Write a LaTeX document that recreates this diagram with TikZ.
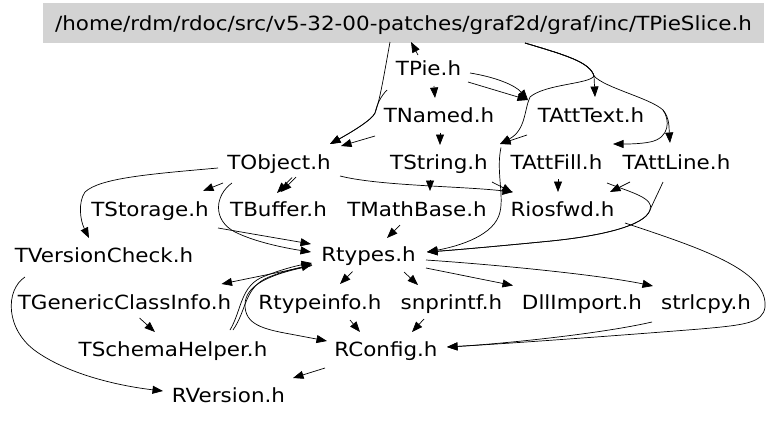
\documentclass[tikz,border=0pt]{standalone}
\usepackage{fontspec}
\setmainfont{DejaVu Sans}[FakeStretch=1.1]
\usetikzlibrary{arrows.meta,calc}
\definecolor{rootgray}{RGB}{211,211,211}
\begin{document}
\begin{tikzpicture}[x=1pt,y=-1pt,
  lbl/.style={inner sep=0pt, font=\fontsize{19.5}{20}\selectfont, text height=14.2pt, text depth=0pt},
  rootbox/.style={lbl, fill=rootgray, minimum width=721pt, minimum height=40pt},
  edge/.style={line width=0.7pt, -{Triangle[length=10.5pt,width=8pt]}}]
\useasboundingbox (0,0) rectangle (768,421);
% nodes
\node[rootbox] (P) at (403.5,23) {/home/rdm/rdoc/src/v5-32-00-patches/graf2d/graf/inc/TPieSlice.h};
\node[lbl] (TPie) at (428.5,68.5) {TPie.h};
\node[lbl] (TNamed) at (439,115.5) {TNamed.h};
\node[lbl] (TAttText) at (591,115.5) {TAttText.h};
\node[lbl] (TObject) at (279,162.5) {TObject.h};
\node[lbl] (TString) at (439,162.5) {TString.h};
\node[lbl] (TAttFill) at (556.5,162) {TAttFill.h};
\node[lbl] (TAttLine) at (676.5,162) {TAttLine.h};
\node[lbl] (TStorage) at (150,209) {TStorage.h};
\node[lbl] (TBuffer) at (278.5,209) {TBuffer.h};
\node[lbl] (TMathBase) at (417,209) {TMathBase.h};
\node[lbl] (Riosfwd) at (562.5,209.5) {Riosfwd.h};
\node[lbl] (TVersionCheck) at (104,255.5) {TVersionCheck.h};
\node[lbl] (Rtypes) at (368.5,254.5) {Rtypes.h};
\node[lbl] (TGCI) at (124.5,302.5) {TGenericClassInfo.h};
\node[lbl] (Rtypeinfo) at (320,302.5) {Rtypeinfo.h};
\node[lbl] (snprintf) at (451.5,302.5) {snprintf.h};
\node[lbl] (DllImport) at (582,302.5) {DllImport.h};
\node[lbl] (strlcpy) at (706,302.5) {strlcpy.h};
\node[lbl] (TSchemaHelper) at (173,349.5) {TSchemaHelper.h};
\node[lbl] (RConfig) at (386,349.5) {RConfig.h};
\node[lbl] (RVersion) at (228.5,395.5) {RVersion.h};
% edges
\draw[edge] ($(TPie)+(-10.5,-13.5)$) -- ($(P)+(7.5,19)$);
\draw[edge] ($(TPie)+(5.5,17.5)$) -- ($(TNamed)+(-4,-17.5)$);
\draw[edge] ($(TNamed)+(1,17)$) -- ($(TString)+(1,-17.5)$);
\draw[edge] ($(P)+(-13.5,19)$) .. controls (384,75) and (380,100) .. (375,113) .. controls (372,120) and (350,133) .. ($(TObject)+(51,-18.5)$);
\draw[edge] ($(TPie)+(-41.5,21.5)$) .. controls (381,96) and (377,104) .. (375,113) .. controls (372,120) and (350,133) .. ($(TObject)+(51,-18.5)$);
\draw[edge] ($(TNamed)+(-64,20.5)$) -- ($(TObject)+(62,-16.5)$);
\draw[edge] ($(TPie)+(41.5,4.5)$) .. controls (495,77) and (515,85) .. ($(TAttText)+(-63,-15.5)$);
\draw[edge] ($(TPie)+(39.5,13.5)$) -- ($(TAttText)+(-63,-15.5)$);
\draw[edge] ($(P)+(121.5,20)$) .. controls (565,55) and (590,62) .. (594,76) -- ($(TAttText)+(4,-18.5)$);
\draw[edge] ($(P)+(121.5,20)$) .. controls (565,55) and (590,62) .. (594,76) .. controls (590,84) and (545,84) .. (530,97) .. controls (524,110) and (526,130) .. ($(TString)+(61,-18.5)$);
\draw[edge] ($(P)+(121.5,20)$) .. controls (565,55) and (590,62) .. (594,76) .. controls (605,88) and (650,98) .. (663,110) .. controls (670,118) and (669,130) .. ($(TAttLine)+(-6.5,-19)$);
\draw[edge] (663,110) .. controls (670,120) and (670,138) .. (650,142) .. controls (640,144) and (628,144) .. ($(TAttFill)+(56.5,-18)$);
\draw[edge] ($(TAttText)+(-64,19.5)$) -- ($(TString)+(61,-18.5)$);
\draw[edge] ($(TString)+(62,-15)$) .. controls (496,170) and (504,195) .. (500,212) .. controls (495,235) and (460,246) .. ($(Rtypes)+(58.5,-2.5)$);
\draw[edge] ($(TObject)+(61,13.5)$) .. controls (380,186) and (460,186) .. ($(Riosfwd)+(-49.5,-17.5)$);
\draw[edge] ($(TString)+(-9,17)$) -- ($(TMathBase)+(13,-18)$);
\draw[edge] ($(TString)+(53,19.5)$) -- ($(Riosfwd)+(-50,-17)$);
\draw[edge] ($(TAttFill)+(1.5,17)$) -- ($(Riosfwd)+(-4.5,-17.5)$);
\draw[edge] ($(TAttLine)+(-46.5,20)$) -- ($(Riosfwd)+(47.5,-17.5)$);
\draw[edge] ($(TAttFill)+(50.5,21)$) .. controls (630,192) and (655,198) .. (650,210) .. controls (645,226) and (600,236) .. (551,241) .. controls (500,246) and (455,250) .. ($(Rtypes)+(58.5,-2.5)$);
\draw[edge] ($(TAttLine)+(-13.5,20)$) .. controls (658,193) and (653,203) .. (650,210) .. controls (645,226) and (600,236) .. (551,241) .. controls (500,246) and (455,250) .. ($(Rtypes)+(58.5,-2.5)$);
\draw[edge] ($(Riosfwd)+(62.5,13.5)$) .. controls (700,248) and (768,270) .. (765,307) .. controls (763,323) and (745,325) .. (700,329) .. controls (600,337) and (500,344) .. ($(RConfig)+(61,-2.5)$);
\draw[edge] ($(strlcpy)+(-54,19.5)$) .. controls (600,334) and (500,344) .. ($(RConfig)+(61,-2.5)$);
\draw[edge] ($(Rtypes)+(57.5,13.5)$) -- ($(DllImport)+(-69,-17)$);
\draw[edge] ($(Rtypes)+(57.5,5.5)$) .. controls (500,265) and (600,275) .. ($(strlcpy)+(-53,-16.5)$);
\draw[edge] ($(Rtypes)+(-16,17)$) -- ($(Rtypeinfo)+(20,-18.5)$);
\draw[edge] ($(Rtypes)+(35.5,17.5)$) -- ($(snprintf)+(-33.5,-17.5)$);
\draw[edge] ($(Rtypeinfo)+(30,17.5)$) -- ($(RConfig)+(-26,-17.5)$);
\draw[edge] ($(snprintf)+(-27.5,16.5)$) -- ($(RConfig)+(26,-17.5)$);
\draw[edge] ($(RConfig)+(-61,18.5)$) -- ($(RVersion)+(64.5,-17.5)$);
\draw[edge] ($(TVersionCheck)+(-79,21.5)$) .. controls (5,290) and (5,330) .. (37,352) .. controls (70,375) and (120,386) .. ($(RVersion)+(-65.5,-4.5)$);
\draw[edge] ($(TObject)+(-61,5.5)$) .. controls (150,174) and (100,178) .. (85,192) .. controls (78,202) and (80,220) .. ($(TVersionCheck)+(-15,-17.5)$);
\draw[edge] ($(TObject)+(-56,20.5)$) -- ($(TStorage)+(53,-18)$);
\draw[edge] ($(TObject)+(13,15)$) -- ($(TBuffer)+(-1.5,-16)$);
\draw[edge] ($(TObject)+(17,14.5)$) -- ($(TBuffer)+(2.5,-17)$);
\draw[edge] ($(TStorage)+(68,19)$) -- ($(Rtypes)+(-57.5,-10.5)$);
\draw[edge] ($(TObject)+(-47,20.5)$) .. controls (215,195) and (212,220) .. (235,232) .. controls (255,242) and (285,248) .. ($(Rtypes)+(-57.5,-2.5)$);
\draw[edge] ($(TMathBase)+(-17,16)$) -- ($(Rtypes)+(18.5,-16.5)$);
\draw[edge] ($(Rtypes)+(-56.5,11)$) -- ($(TGCI)+(97,-18.5)$);
\draw[edge] ($(TSchemaHelper)+(57,-19.5)$) .. controls (242,310) and (240,285) .. (265,276) .. controls (280,270) and (295,266) .. ($(Rtypes)+(-56.5,8.5)$);
\draw[edge] ($(TSchemaHelper)+(60,-19.5)$) .. controls (247,310) and (244,287) .. (269,277) .. controls (284,271) and (298,268) .. ($(Rtypes)+(-56.5,10)$);
\draw[edge] ($(Rtypes)+(-58,11.5)$) .. controls (270,274) and (245,285) .. (245,305) .. controls (245,324) and (262,329) .. (290,334) -- ($(RConfig)+(-59,-8.5)$);
\draw[edge] ($(TGCI)+(15,15.5)$) -- ($(TSchemaHelper)+(-18,-17.5)$);
\end{tikzpicture}
\end{document}
